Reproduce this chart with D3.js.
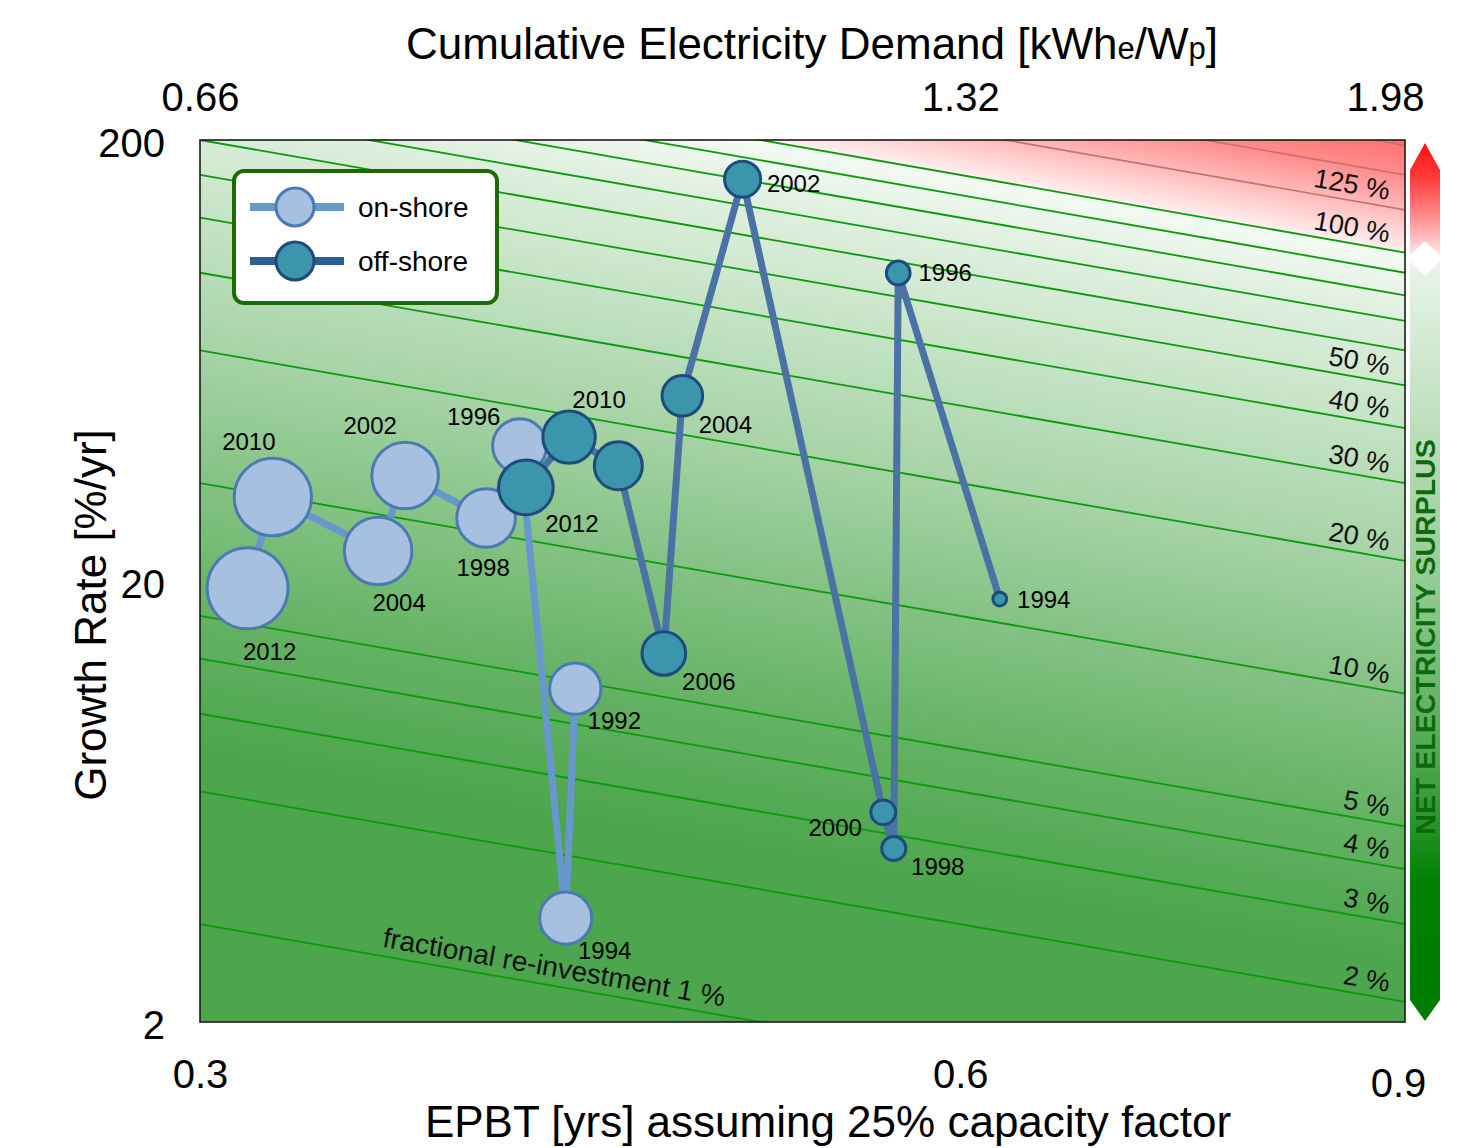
<!DOCTYPE html>
<html>
<head>
<meta charset="utf-8">
<script src="https://cdn.jsdelivr.net/npm/d3@7"></script>
<style>
  html, body { margin: 0; padding: 0; background: #fff; }
  svg { display: block; font-family: "Liberation Sans", Arial, Helvetica, sans-serif; }
</style>
</head>
<body>
<svg id="chart" width="1474" height="1148"></svg>
<script>
// ---------------------------------------------------------------------------
// Data
// ---------------------------------------------------------------------------
// Energy pay-back time [yrs] (25 % capacity factor) and annual growth rate [%/yr]
const onshoreYears    = [1992, 1994, 1996, 1998, 2002, 2004, 2010, 2012];
const onshoreEPBT     = [0.4224, 0.4187, 0.4015, 0.3894, 0.3617, 0.3529, 0.3206, 0.3133];
const onshoreGrowth   = [11.4, 3.44, 40.5, 27.8, 34.7, 23.4, 31.0, 19.25];
const onshoreCapacity = [2.4, 2.7, 3.7, 7.7, 27.7, 32.4, 155, 277];      // cumulative GW

const offshoreYears    = [1994, 1996, 1998, 2000, 2002, 2004, 2006, 2008, 2010, 2012];
const offshoreEPBT     = [0.622, 0.567, 0.5647, 0.5593, 0.492, 0.4657, 0.4579, 0.4393, 0.420, 0.4038];
const offshoreGrowth   = [18.2, 99.9, 4.95, 5.98, 163, 52.6, 13.7, 36.5, 42.4, 32.6];
const offshoreCapacity = [0.006, 0.029, 0.031, 0.034, 0.21, 0.43, 0.70, 1.41, 2.85, 4.06]; // cumulative GW

// Axis domains and ticks
const epbtDomain   = [0.3, 0.9];
const growthDomain = [2, 200];
const epbtTicks    = [0.3, 0.6, 0.9];
const growthTicks  = [2, 20, 200];
const demandTicks  = [0.66, 1.32, 1.98];
const demandPerYear = 2.2;   // kWh_e per W_p per year of EPBT

// Fractional re-investment contours [%] (growth rate x EPBT)
const surplusLevels  = [1, 2, 3, 4, 5, 10, 20, 30, 40, 50, 60, 70, 80, 90, 100];
const deficitLevels  = [125, 150, 175];
const labelledLevels = [2, 3, 4, 5, 10, 20, 30, 40, 50, 100, 125];

// ---------------------------------------------------------------------------
// Layout
// ---------------------------------------------------------------------------
const plot = { left: 200, right: 1405, top: 140, bottom: 1022 };
const labelOffsets = {
  onshore: { 1992: [39, 32], 1994: [39, 32], 1996: [-46, -30], 1998: [-3, 49],
             2002: [-35, -50], 2004: [21, 51], 2010: [-24, -56], 2012: [22, 63] },
  offshore: { 1994: [44, 0], 1996: [47, -1], 1998: [44, 18], 2000: [-48, 15],
              2002: [51, 4], 2004: [43, 29], 2006: [45, 28], 2010: [30, -38], 2012: [46, 36] }
};
const styles = {
  onshore:  { fill: "#a7c0e0", stroke: "#4b7ab3", line: "#6797cc" },
  offshore: { fill: "#3b96ad", stroke: "#1f4a7c", line: "#4a72a4" }
};

const svg = d3.select("#chart");

const x = d3.scaleLog().domain(epbtDomain).range([plot.left, plot.right]);
const y = d3.scaleLog().domain(growthDomain).range([plot.bottom, plot.top]);
const xTop = d3.scaleLog()
  .domain(epbtDomain.map(d => d * demandPerYear))
  .range([plot.left, plot.right]);
const r = d3.scaleLog().domain([0.1, 100]).range([15.72, 37.32]);

// ---------------------------------------------------------------------------
// Background: colour by fractional re-investment (green = surplus, red = deficit)
// ---------------------------------------------------------------------------
const bgColor = d3.scaleLog()
  .domain([2.5, 5, 10, 20, 40, 70, 100, 100.0001, 125, 150, 200])
  .range(["#4da64d", "#64b264", "#84c284", "#a6d3a6", "#c5e3c5", "#deefde",
          "#f4faf4", "#fff0f0", "#ffb9b9", "#ff8c8c", "#ff5f5f"])
  .interpolate(d3.interpolateRgb)
  .clamp(true);

{
  const cw = plot.right - plot.left, ch = plot.bottom - plot.top;
  const canvas = document.createElement("canvas");
  canvas.width = cw; canvas.height = ch;
  const ctx = canvas.getContext("2d");
  const img = ctx.createImageData(cw, ch);
  // lookup table on log10(f)
  const N = 4096, lo = -1, hi = 2.6, lut = [];
  for (let k = 0; k < N; k++) {
    const c = d3.rgb(bgColor(Math.pow(10, lo + (hi - lo) * k / (N - 1))));
    lut.push([c.r, c.g, c.b]);
  }
  for (let j = 0; j < ch; j++) {
    const g = y.invert(plot.top + j + 0.5);
    for (let i = 0; i < cw; i++) {
      const e = x.invert(plot.left + i + 0.5);
      const lf = Math.log10(e * g);
      const k = Math.max(0, Math.min(N - 1, Math.round((lf - lo) / (hi - lo) * (N - 1))));
      const c = lut[k], p = (j * cw + i) * 4;
      img.data[p] = c[0]; img.data[p + 1] = c[1]; img.data[p + 2] = c[2]; img.data[p + 3] = 255;
    }
  }
  ctx.putImageData(img, 0, 0);
  svg.append("image")
    .attr("x", plot.left).attr("y", plot.top)
    .attr("width", cw).attr("height", ch)
    .attr("preserveAspectRatio", "none")
    .attr("href", canvas.toDataURL());
}

const defs = svg.append("defs");
defs.append("clipPath").attr("id", "plotClip")
  .append("rect")
  .attr("x", plot.left).attr("y", plot.top)
  .attr("width", plot.right - plot.left).attr("height", plot.bottom - plot.top);

// ---------------------------------------------------------------------------
// Contour lines g * EPBT = const
// ---------------------------------------------------------------------------
const contour = d3.line().x(d => x(d[0])).y(d => y(d[1]));
const contourPts = f => epbtDomain.map(e => [e, f / e]);
const contourG = svg.append("g").attr("clip-path", "url(#plotClip)");

contourG.selectAll("path.surplus").data(surplusLevels).join("path")
  .attr("class", "surplus")
  .attr("d", f => contour(contourPts(f)))
  .attr("fill", "none").attr("stroke", "#0a9a0a").attr("stroke-width", 1.8);

contourG.selectAll("path.deficit").data(deficitLevels).join("path")
  .attr("class", "deficit")
  .attr("d", f => contour(contourPts(f)))
  .attr("fill", "none").attr("stroke", "#c97070").attr("stroke-width", 1.6);

const slopeDeg = Math.atan2(y(1 / epbtDomain[1]) - y(1 / epbtDomain[0]),
                            x(epbtDomain[1]) - x(epbtDomain[0])) * 180 / Math.PI;

const labelEnd = x.invert(1387);
svg.append("g").selectAll("text").data(labelledLevels).join("text")
  .attr("transform", f => `translate(${x(labelEnd)},${y(f / labelEnd)}) rotate(${slopeDeg})`)
  .attr("dy", -7)
  .attr("text-anchor", "end")
  .attr("font-size", 27)
  .attr("fill", "#111")
  .text(f => `${f} %`);

{
  const e1 = x.invert(722);
  svg.append("text")
    .attr("transform", `translate(${x(e1)},${y(1 / e1)}) rotate(${slopeDeg})`)
    .attr("dy", -9)
    .attr("text-anchor", "end")
    .attr("font-size", 28)
    .attr("fill", "#111")
    .text("fractional re-investment 1 %");
}

// plot frame
svg.append("rect")
  .attr("x", plot.left).attr("y", plot.top)
  .attr("width", plot.right - plot.left).attr("height", plot.bottom - plot.top)
  .attr("fill", "none").attr("stroke", "#1a1a1a").attr("stroke-width", 1.6);

// ---------------------------------------------------------------------------
// Wind series
// ---------------------------------------------------------------------------
function series(key, years, epbt, growth, cap) {
  return years.map((yr, i) => ({ key, year: yr, e: epbt[i], g: growth[i], c: cap[i] }));
}
const onshore  = series("onshore", onshoreYears, onshoreEPBT, onshoreGrowth, onshoreCapacity);
const offshore = series("offshore", offshoreYears, offshoreEPBT, offshoreGrowth, offshoreCapacity);
const path = d3.line().x(d => x(d.e)).y(d => y(d.g));

function drawSeries(data) {
  const st = styles[data[0].key];
  const g = svg.append("g");
  g.append("path").attr("d", path(data))
    .attr("fill", "none").attr("stroke", st.line)
    .attr("stroke-width", 7).attr("stroke-linejoin", "round");
  g.selectAll("circle").data(data).join("circle")
    .attr("cx", d => x(d.e)).attr("cy", d => y(d.g)).attr("r", d => r(d.c))
    .attr("fill", st.fill).attr("stroke", st.stroke).attr("stroke-width", 3);
  return g;
}
drawSeries(onshore);
drawSeries(offshore);

const labelG = svg.append("g");
[...onshore, ...offshore].forEach(d => {
  const off = labelOffsets[d.key][d.year];
  if (!off) return;
  labelG.append("text")
    .attr("x", x(d.e) + off[0]).attr("y", y(d.g) + off[1])
    .attr("dy", "0.36em")
    .attr("text-anchor", "middle")
    .attr("font-size", 24)
    .attr("fill", "#000")
    .text(d.year);
});

// ---------------------------------------------------------------------------
// Legend
// ---------------------------------------------------------------------------
{
  const lg = svg.append("g").attr("transform", "translate(234,171)");
  lg.append("rect").attr("width", 263).attr("height", 132).attr("rx", 10)
    .attr("fill", "#fff").attr("stroke", "#1d6b00").attr("stroke-width", 4);
  const items = [["on-shore", "onshore"], ["off-shore", "offshore"]];
  items.forEach(([label, key], i) => {
    const st = styles[key], cy = 36 + i * 54;
    lg.append("line").attr("x1", 16).attr("x2", 110).attr("y1", cy).attr("y2", cy)
      .attr("stroke", key === "onshore" ? "#6699cc" : "#2a5f94").attr("stroke-width", 8);
    lg.append("circle").attr("cx", 61).attr("cy", cy).attr("r", 19)
      .attr("fill", st.fill).attr("stroke", st.stroke).attr("stroke-width", 3);
    lg.append("text").attr("x", 124).attr("y", cy + 10)
      .attr("font-size", 28).attr("fill", "#000").text(label);
  });
}

// ---------------------------------------------------------------------------
// Axes
// ---------------------------------------------------------------------------
const tickFont = 40;
const fmt = d => String(d);

const gx = svg.append("g").attr("transform", `translate(0,${plot.bottom})`)
  .call(d3.axisBottom(x).tickValues(epbtTicks).tickSize(0).tickPadding(38).tickFormat(fmt));
gx.select(".domain").remove();
gx.selectAll("text").attr("font-size", tickFont).attr("font-family", null).attr("fill", "#000");
gx.selectAll(".tick").filter(d => d === epbtTicks[2]).select("text").attr("dx", -7).attr("dy", "0.92em");

const gxt = svg.append("g").attr("transform", `translate(0,${plot.top})`)
  .call(d3.axisTop(xTop).tickValues(demandTicks).tickSize(0).tickPadding(29).tickFormat(fmt));
gxt.select(".domain").remove();
gxt.selectAll("text").attr("font-size", tickFont).attr("font-family", null).attr("fill", "#000");
gxt.selectAll(".tick").filter(d => d === demandTicks[2]).select("text").attr("dx", -20);

const gy = svg.append("g").attr("transform", `translate(${plot.left},0)`)
  .call(d3.axisLeft(y).tickValues(growthTicks).tickSize(0).tickPadding(35).tickFormat(fmt));
gy.select(".domain").remove();
gy.selectAll("text").attr("font-size", tickFont).attr("font-family", null).attr("fill", "#000").attr("dy", "0.42em");

// axis titles
const topTitle = svg.append("text")
  .attr("x", 812).attr("y", 59).attr("text-anchor", "middle")
  .attr("font-size", 44).attr("fill", "#000");
topTitle.append("tspan").text("Cumulative Electricity Demand [kWh");
topTitle.append("tspan").attr("font-size", 31).text("e");
topTitle.append("tspan").text("/W");
topTitle.append("tspan").attr("font-size", 31).text("p");
topTitle.append("tspan").text("]");

svg.append("text")
  .attr("x", 828).attr("y", 1137).attr("text-anchor", "middle")
  .attr("font-size", 44).attr("fill", "#000")
  .text("EPBT [yrs] assuming 25% capacity factor");

svg.append("text")
  .attr("transform", "translate(106,615) rotate(-90)")
  .attr("text-anchor", "middle")
  .attr("font-size", 44).attr("fill", "#000")
  .text("Growth Rate [%/yr]");

// ---------------------------------------------------------------------------
// Colour bar
// ---------------------------------------------------------------------------
{
  const gGreen = defs.append("linearGradient").attr("id", "cbGreen")
    .attr("gradientUnits", "userSpaceOnUse")
    .attr("x1", 0).attr("x2", 0).attr("y1", 261).attr("y2", 1020);
  [[0, "#e9f5e9"], [0.24, "#b8dcb8"], [0.42, "#94cc94"], [0.66, "#4fa64f"],
   [0.73, "#2e962e"], [0.82, "#008000"], [1, "#007c00"]]
    .forEach(([o, c]) => gGreen.append("stop").attr("offset", o).attr("stop-color", c));

  const gRed = defs.append("linearGradient").attr("id", "cbRed")
    .attr("gradientUnits", "userSpaceOnUse")
    .attr("x1", 0).attr("x2", 0).attr("y1", 143).attr("y2", 256);
  [[0, "#ff0f0f"], [0.3, "#ff3b3b"], [0.65, "#ff8c8c"], [1, "#ffeaea"]]
    .forEach(([o, c]) => gRed.append("stop").attr("offset", o).attr("stop-color", c));

  const cx0 = 1410, cx1 = 1440, cxm = 1425;
  svg.append("path")
    .attr("d", `M${cx0},170 L${cxm},143 L${cx1},170 L${cx1},255 L${cxm},241 L${cx0},255 Z`)
    .attr("fill", "url(#cbRed)");
  svg.append("path")
    .attr("d", `M${cx0},261 L${cxm},276 L${cx1},261 L${cx1},1000 L${cxm},1021 L${cx0},1000 Z`)
    .attr("fill", "url(#cbGreen)");

  svg.append("text")
    .attr("transform", "translate(1435,637) rotate(-90)")
    .attr("text-anchor", "middle")
    .attr("font-size", 28.5).attr("font-weight", "bold")
    .attr("fill", "#0b6a0b")
    .text("NET ELECTRICITY SURPLUS");
}
</script>
</body>
</html>
